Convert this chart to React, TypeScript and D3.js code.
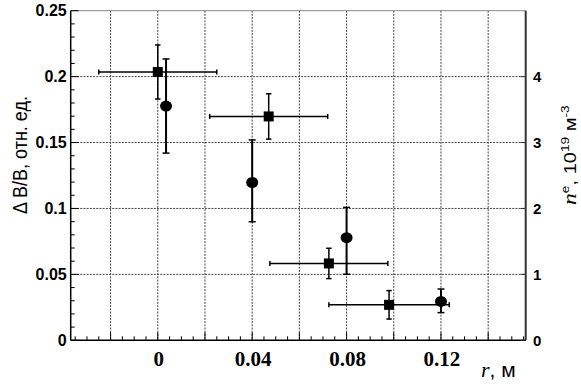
import React from "react";
import * as d3 from "d3";

// ---- data ----
const squareR = [0, 0.047, 0.0725, 0.098];
const squareVal = [0.2035, 0.1698, 0.0583, 0.0269];
const squareRErr = [0.025, 0.025, 0.025, 0.0255];
const squareValErr = [0.0205, 0.0172, 0.0115, 0.0108];

const circleR = [0.0035, 0.04, 0.08, 0.12];
const circleVal = [0.1777, 0.1197, 0.0778, 0.0295];
const circleValErrUp = [0.0357, 0.0323, 0.023, 0.0094];
const circleValErrDown = [0.0357, 0.0298, 0.0277, 0.0085];

const xGridTicks = [-0.02, 0, 0.02, 0.04, 0.06, 0.08, 0.1, 0.12, 0.14];
const xLabelTicks = [0, 0.04, 0.08, 0.12];
const yMajorTicks = [0, 0.05, 0.1, 0.15, 0.2, 0.25];
const yTickLabels = ["0", "0.05", "0.1", "0.15", "0.2", "0.25"];
const rightTicks = [0, 1, 2, 3, 4];

export default function App() {
  const W = 581, H = 386;
  const L = 70.7, R = 525.7, T = 10.7, B = 340.3;
  const x = d3.scaleLinear().domain([-0.0369, 0.1559]).range([L, R]);
  const y = d3.scaleLinear().domain([0, 0.25]).range([B, T]);
  const yR = d3.scaleLinear().domain([0, 5]).range([B, T]);

  const xMinor = d3.range(-0.035, 0.1555, 0.005).map((v) => Math.round(v * 1000) / 1000);
  const yMinor = d3.range(0, 0.2501, 0.01).map((v) => Math.round(v * 100) / 100);

  const grid = "#444";
  const dash = "2,1.2";

  return (
    <div style={{ position: "fixed", left: 0, top: 0, width: W, height: H, background: "#fff" }}>
      <svg width={W} height={H} style={{ display: "block" }}>
        <rect width={W} height={H} fill="#fff" />
        {/* grid */}
        {xGridTicks.map((t) => (
          <line key={"gx" + t} x1={x(t)} x2={x(t)} y1={T} y2={B} stroke={grid} strokeWidth={1} strokeDasharray={dash} />
        ))}
        {yMajorTicks.slice(1, 5).map((t) => (
          <line key={"gy" + t} x1={L} x2={R} y1={y(t)} y2={y(t)} stroke={grid} strokeWidth={1} strokeDasharray={dash} />
        ))}
        {/* frame */}
        <line x1={L} x2={R} y1={T} y2={T} stroke="#888" strokeWidth={1} />
        <line x1={R} x2={R} y1={T} y2={B} stroke="#333" strokeWidth={2} />
        <line x1={L} x2={L} y1={T} y2={B} stroke="#000" strokeWidth={1.5} />
        <line x1={L} x2={R} y1={B} y2={B} stroke="#000" strokeWidth={1.5} />
        {/* x ticks */}
        {xMinor.map((t) => {
          const major = Math.abs(Math.round(t / 0.02) * 0.02 - t) < 1e-6;
          return <line key={"xt" + t} x1={x(t)} x2={x(t)} y1={B} y2={B - (major ? 8 : 4)} stroke="#000" strokeWidth={1} />;
        })}
        {/* y ticks */}
        {yMinor.map((t) => {
          const major = Math.abs(Math.round(t / 0.05) * 0.05 - t) < 1e-6;
          return <line key={"yt" + t} x1={L} x2={L + (major ? 8 : 4)} y1={y(t)} y2={y(t)} stroke="#000" strokeWidth={1} />;
        })}
        {/* right ticks */}
        {rightTicks.map((t) => (
          <line key={"rt" + t} x1={R} x2={R - 5} y1={yR(t)} y2={yR(t)} stroke="#333" strokeWidth={1} />
        ))}
        {/* y labels */}
        {yMajorTicks.map((t, i) => (
          <text key={"yl" + t} x={L - 4} y={y(t)} dy="0.36em" textAnchor="end"
            style={{ font: "bold 16px 'Liberation Sans', Arial, sans-serif" }} fill="#000">
            {yTickLabels[i]}
          </text>
        ))}
        {/* x labels */}
        {xLabelTicks.map((t) => (
          <text key={"xl" + t} x={x(t) + 1} y={366} textAnchor="middle"
            style={{ font: "bold 21px 'Liberation Serif', 'Times New Roman', serif" }} fill="#000">
            {String(t)}
          </text>
        ))}
        {/* right labels */}
        {rightTicks.map((t) => (
          <text key={"rl" + t} x={533} y={yR(t)} dy="0.36em" textAnchor="start"
            style={{ font: "bold 15px 'Liberation Sans', Arial, sans-serif" }} fill="#000">
            {String(t)}
          </text>
        ))}
        {/* axis titles */}
        <text transform="translate(26.5,155) rotate(-90) scale(1,1.15)" textAnchor="middle"
          style={{ font: "18px 'Liberation Sans', Arial, sans-serif" }} fill="#000">
          Δ B/B, отн. ед.
        </text>
        <text x={481} y={377} style={{ font: "21px 'Liberation Sans', Arial, sans-serif" }} fill="#000">
          <tspan style={{ font: "italic 22px 'Liberation Serif', serif" }}>r</tspan>
          <tspan>, м</tspan>
        </text>
        <text transform="translate(576,205) rotate(-90) scale(1.25,1)" textAnchor="start"
          style={{ font: "16px 'Liberation Sans', Arial, sans-serif" }} fill="#000">
          <tspan style={{ font: "italic 19px 'Liberation Serif', serif" }}>n</tspan>
          <tspan dy={-7} style={{ fontSize: "11px" }}>e</tspan>
          <tspan dy={7}>, 10</tspan>
          <tspan dy={-7} style={{ fontSize: "11px" }}>19</tspan>
          <tspan dy={7}> м</tspan>
          <tspan dy={-7} style={{ fontSize: "11px" }}>-3</tspan>
        </text>
        {/* circle series error bars */}
        {circleR.map((r, i) => {
          const cx = x(r);
          const yt = y(circleVal[i] + circleValErrUp[i]);
          const yb = y(circleVal[i] - circleValErrDown[i]);
          return (
            <g key={"ce" + i} stroke="#000" strokeWidth={2}>
              <line x1={cx} x2={cx} y1={yt} y2={yb} />
              <line x1={cx - 3.5} x2={cx + 3.5} y1={yt} y2={yt} strokeWidth={1.5} />
              <line x1={cx - 3.5} x2={cx + 3.5} y1={yb} y2={yb} strokeWidth={1.5} />
            </g>
          );
        })}
        {/* square series error bars */}
        {squareR.map((r, i) => {
          const cx = x(r), cy = y(squareVal[i]);
          const xl = x(r - squareRErr[i]), xr = x(r + squareRErr[i]);
          const yt = y(squareVal[i] + squareValErr[i]);
          const yb = y(squareVal[i] - squareValErr[i]);
          return (
            <g key={"se" + i} stroke="#000" strokeWidth={1.5}>
              <line x1={xl} x2={xr} y1={cy} y2={cy} />
              <line x1={xl} x2={xl} y1={cy - 2.5} y2={cy + 2.5} />
              <line x1={xr} x2={xr} y1={cy - 2.5} y2={cy + 2.5} />
              <line x1={cx} x2={cx} y1={yt} y2={yb} />
              <line x1={cx - 2.7} x2={cx + 2.7} y1={yt} y2={yt} />
              <line x1={cx - 2.7} x2={cx + 2.7} y1={yb} y2={yb} />
            </g>
          );
        })}
        {/* markers */}
        {circleR.map((r, i) => (
          <ellipse key={"c" + i} cx={x(r)} cy={y(circleVal[i])} rx={6} ry={5.5} fill="#000" />
        ))}
        {squareR.map((r, i) => (
          <rect key={"s" + i} x={x(r) - 5} y={y(squareVal[i]) - 5} width={10} height={10} fill="#000" />
        ))}
      </svg>
    </div>
  );
}
